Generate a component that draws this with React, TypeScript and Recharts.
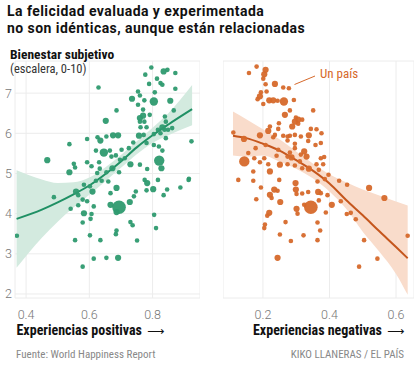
import { ComposedChart, Area, Line, Scatter, XAxis, YAxis, CartesianGrid } from "recharts"

// each point: [experiencias, escalera, tamaño de población (1-5)]
const positivePoints: [number, number, number][] = [
  [0.796, 7.64, 1], [0.777, 7.46, 1], [0.835, 7.54, 2], [0.847, 7.58, 1], [0.872, 7.5, 1],
  [0.814, 7.36, 1], [0.789, 7.23, 1], [0.825, 7.25, 1], [0.831, 7.21, 1], [0.629, 7.14, 1],
  [0.872, 7.11, 1], [0.754, 7.04, 1], [0.807, 7.02, 1], [0.735, 6.86, 2], [0.76, 6.94, 1],
  [0.774, 6.82, 1], [0.804, 6.79, 3], [0.856, 6.81, 2], [0.754, 6.71, 1], [0.686, 6.57, 1],
  [0.77, 6.59, 1], [0.791, 6.46, 1], [0.839, 6.42, 1], [0.867, 6.57, 1], [0.652, 6.31, 2],
  [0.76, 6.38, 2], [0.77, 6.44, 2], [0.774, 6.29, 1], [0.76, 6.29, 1], [0.842, 6.29, 1],
  [0.781, 6.15, 1], [0.762, 6.15, 1], [0.757, 5.94, 2], [0.772, 5.96, 1], [0.831, 6.15, 2],
  [0.838, 6.09, 1], [0.849, 6.09, 1], [0.817, 6.09, 1], [0.862, 6.13, 1], [0.825, 6.0, 1],
  [0.804, 5.98, 1], [0.842, 5.88, 1], [0.923, 5.8, 1], [0.537, 5.73, 1], [0.593, 5.86, 1],
  [0.626, 5.9, 1], [0.635, 5.82, 2], [0.654, 5.92, 1], [0.675, 5.95, 2], [0.691, 5.95, 2],
  [0.739, 5.77, 1], [0.781, 5.76, 1], [0.804, 5.71, 1], [0.82, 5.67, 1], [0.831, 5.57, 1],
  [0.725, 5.63, 1], [0.702, 5.59, 1], [0.621, 5.57, 1], [0.646, 5.52, 3], [0.67, 5.42, 1],
  [0.665, 5.57, 1], [0.684, 5.45, 1], [0.712, 5.38, 1], [0.697, 5.34, 1], [0.467, 5.33, 2],
  [0.551, 5.24, 1], [0.555, 5.15, 1], [0.537, 5.03, 2], [0.593, 5.28, 1], [0.607, 5.18, 1],
  [0.631, 5.28, 1], [0.633, 5.12, 1], [0.625, 5.01, 1], [0.654, 5.03, 1], [0.673, 5.13, 2],
  [0.694, 5.03, 1], [0.73, 5.23, 2], [0.76, 5.22, 1], [0.783, 5.11, 1], [0.821, 5.32, 4],
  [0.828, 5.13, 2], [0.915, 4.87, 1],
  [0.621, 4.82, 1], [0.639, 4.82, 1], [0.66, 4.8, 1], [0.583, 4.72, 1], [0.775, 4.84, 1],
  [0.783, 4.76, 2], [0.817, 4.84, 1], [0.914, 4.84, 1], [0.488, 4.41, 1], [0.558, 4.55, 2],
  [0.565, 4.46, 1], [0.61, 4.55, 2], [0.602, 4.68, 1], [0.667, 4.51, 1], [0.686, 4.64, 2],
  [0.747, 4.55, 1], [0.741, 4.43, 1], [0.728, 4.29, 2], [0.781, 4.58, 1], [0.802, 4.61, 2],
  [0.846, 4.6, 1], [0.835, 4.46, 1], [0.888, 4.65, 1], [0.541, 4.12, 1], [0.565, 4.21, 1],
  [0.579, 4.35, 1], [0.593, 4.31, 1], [0.614, 4.18, 1], [0.583, 4.01, 2], [0.607, 3.99, 1],
  [0.579, 3.78, 1], [0.604, 3.87, 1], [0.667, 4.22, 2], [0.694, 4.16, 5], [0.686, 4.04, 2],
  [0.805, 3.97, 1], [0.73, 3.79, 1], [0.737, 3.71, 1], [0.811, 3.64, 1], [0.371, 3.45, 1],
  [0.555, 3.34, 1], [0.602, 3.46, 1], [0.635, 3.34, 1], [0.686, 3.58, 1], [0.684, 3.49, 1],
  [0.751, 3.33, 1], [0.614, 2.88, 1], [0.654, 2.9, 1], [0.691, 2.9, 2], [0.579, 2.68, 1],
]

const negativePoints: [number, number, number][] = [
  [0.181, 7.66, 1], [0.158, 7.5, 1], [0.208, 7.58, 2], [0.204, 7.47, 2], [0.201, 7.36, 1],
  [0.208, 7.22, 1], [0.236, 7.23, 2], [0.261, 7.14, 1], [0.278, 7.12, 1], [0.194, 7.02, 1],
  [0.211, 7.04, 1], [0.191, 6.92, 2], [0.184, 6.85, 1], [0.219, 6.82, 2], [0.231, 6.82, 2],
  [0.244, 6.81, 1], [0.263, 6.79, 3], [0.293, 6.83, 1], [0.201, 6.73, 1], [0.281, 6.57, 1],
  [0.351, 6.57, 1], [0.266, 6.46, 2], [0.299, 6.39, 1], [0.306, 6.34, 2], [0.318, 6.34, 1],
  [0.296, 6.29, 2], [0.248, 6.25, 1], [0.288, 6.17, 2], [0.306, 6.24, 1], [0.221, 6.17, 1],
  [0.216, 6.06, 2], [0.111, 6.02, 1], [0.236, 5.96, 1], [0.246, 6.11, 1], [0.261, 5.94, 1],
  [0.274, 5.92, 1], [0.281, 5.94, 1], [0.296, 5.96, 1], [0.314, 5.92, 1], [0.338, 5.95, 2],
  [0.344, 6.11, 1], [0.361, 6.1, 1], [0.376, 6.0, 1], [0.191, 5.95, 2], [0.143, 5.86, 2],
  [0.274, 5.82, 1], [0.231, 5.9, 1], [0.336, 5.81, 1], [0.296, 5.74, 1], [0.296, 5.63, 1],
  [0.358, 5.71, 1], [0.374, 5.76, 1], [0.178, 5.63, 1], [0.208, 5.71, 1], [0.246, 5.59, 1],
  [0.324, 5.55, 2], [0.331, 5.42, 2], [0.281, 5.52, 1], [0.314, 5.47, 1], [0.156, 5.51, 1],
  [0.241, 5.44, 1], [0.286, 5.4, 2], [0.274, 5.42, 1], [0.144, 5.3, 4], [0.174, 5.38, 1],
  [0.204, 5.38, 1], [0.191, 5.28, 1], [0.216, 5.23, 1], [0.251, 5.22, 2], [0.274, 5.23, 1],
  [0.296, 5.2, 1], [0.311, 5.3, 1], [0.318, 5.13, 1], [0.338, 5.12, 2], [0.361, 5.23, 1],
  [0.374, 5.38, 1], [0.384, 5.41, 1], [0.381, 5.23, 1], [0.368, 5.09, 1], [0.171, 5.05, 1],
  [0.221, 5.05, 2], [0.397, 4.97, 1],
  [0.126, 4.84, 1], [0.171, 4.82, 1], [0.249, 4.84, 1], [0.298, 4.76, 2], [0.364, 4.8, 1],
  [0.386, 4.86, 1], [0.429, 4.82, 1], [0.453, 4.72, 1], [0.194, 4.65, 1], [0.234, 4.6, 2],
  [0.244, 4.57, 1], [0.221, 4.47, 2], [0.226, 4.39, 1], [0.299, 4.6, 2], [0.301, 4.49, 1],
  [0.318, 4.5, 1], [0.336, 4.54, 1], [0.366, 4.54, 2], [0.374, 4.51, 1], [0.394, 4.46, 1],
  [0.18, 4.36, 1], [0.252, 4.29, 2], [0.368, 4.33, 1], [0.344, 4.16, 5], [0.324, 4.22, 1],
  [0.407, 4.22, 2], [0.434, 4.31, 1], [0.519, 4.64, 2], [0.565, 4.39, 2], [0.301, 4.12, 2],
  [0.304, 4.0, 1], [0.219, 4.02, 2], [0.213, 3.95, 1], [0.389, 4.03, 1], [0.452, 3.99, 1],
  [0.464, 4.02, 1], [0.479, 3.86, 1], [0.268, 3.79, 1], [0.206, 3.73, 1], [0.204, 3.64, 1],
  [0.364, 3.78, 1], [0.372, 3.58, 1], [0.251, 3.48, 1], [0.322, 3.46, 1], [0.284, 3.32, 1],
  [0.364, 3.34, 1], [0.504, 3.34, 1], [0.635, 3.45, 1], [0.244, 2.9, 2], [0.544, 2.88, 1],
  [0.489, 2.68, 1],
]

// curva de ajuste y su intervalo
const positiveFitX = [0.37, 0.45, 0.5, 0.55, 0.6, 0.65, 0.7, 0.75, 0.8, 0.85, 0.925]
const positiveFit = [3.87, 4.1, 4.28, 4.48, 4.7, 4.98, 5.3, 5.65, 5.95, 6.22, 6.6]
const positiveLow = [2.65, 3.4, 3.8, 4.15, 4.47, 4.8, 5.14, 5.48, 5.76, 5.95, 6.2]
const positiveHigh = [5.08, 4.85, 4.76, 4.78, 4.9, 5.15, 5.46, 5.8, 6.14, 6.5, 7.2]

const negativeFitX = [0.11, 0.15, 0.2, 0.25, 0.3, 0.35, 0.4, 0.45, 0.5, 0.55, 0.6, 0.635]
const negativeFit = [5.94, 5.88, 5.74, 5.57, 5.33, 5.07, 4.75, 4.34, 3.96, 3.56, 3.17, 2.89]
const negativeLow = [5.45, 5.42, 5.45, 5.3, 5.12, 4.88, 4.55, 4.12, 3.55, 3.05, 2.5, 1.98]
const negativeHigh = [6.54, 6.35, 6.1, 5.85, 5.55, 5.25, 4.98, 4.78, 4.6, 4.45, 4.3, 4.2]

const yTicks = [2, 3, 4, 5, 6, 7]
const positiveTicks = [0.4, 0.6, 0.8]
const negativeTicks = [0.2, 0.4, 0.6]

const GREEN = "#2e9a6f"
const ORANGE = "#d6692b"
const radius = [0, 2.3, 3.1, 4.2, 5.2, 6.8]
const FONT = "'Liberation Sans Narrow', 'Roboto Condensed', Roboto, sans-serif"
const tickStyle = { fill: "#777", fontSize: 12.5, fontFamily: "Roboto", fontWeight: 300 }

const toPoints = (pts: [number, number, number][]) => pts.map(([x, y, p]) => ({ x, y, p }))
const toFit = (xs: number[], fit: number[], lo: number[], hi: number[]) =>
  xs.map((x, i) => ({ x, fit: fit[i], band: [lo[i], hi[i]] }))

function Panel({ left, width, points, fit, ticks, domain, color, band, line, showY }: any) {
  return (
    <div style={{ position: "absolute", left, top: 0 }}>
      <ComposedChart
        width={width}
        height={328}
        data={fit}
        margin={{ top: 61, right: 0, bottom: 0, left: 0 }}
      >
        <CartesianGrid stroke="#ececec" strokeWidth={1} />
        <XAxis
          type="number"
          dataKey="x"
          domain={domain}
          ticks={ticks}
          allowDataOverflow
          axisLine={false}
          tickLine={false}
          tickSize={0}
          tickMargin={12}
          height={30}
          tick={tickStyle}
          tickFormatter={(v: number) => v.toFixed(1)}
        />
        <YAxis
          type="number"
          domain={[1.9, 7.8]}
          ticks={yTicks}
          allowDataOverflow
          axisLine={false}
          tickLine={false}
          tickSize={0}
          tickMargin={3}
          width={showY ? 15 : 0}
          tick={showY ? tickStyle : false}
        />
        <Area
          type="monotone"
          dataKey="band"
          stroke="none"
          fill={band}
          fillOpacity={1}
          isAnimationActive={false}
        />
        <Scatter
          data={points}
          dataKey="y"
          isAnimationActive={false}
          shape={(s: any) => (
            <circle cx={s.cx} cy={s.cy} r={radius[s.payload.p]} fill={color} fillOpacity={0.95} />
          )}
        />
        <Line
          type="monotone"
          dataKey="fit"
          stroke={line}
          strokeWidth={2}
          dot={false}
          isAnimationActive={false}
        />
      </ComposedChart>
    </div>
  )
}

export default function App() {
  return (
    <div
      style={{
        position: "absolute",
        left: 0,
        top: 0,
        width: 414,
        height: 365,
        background: "#fff",
        overflow: "hidden",
        fontFamily: FONT,
      }}
    >
      <Panel
        left={0}
        width={200}
        points={toPoints(positivePoints)}
        fit={toFit(positiveFitX, positiveFit, positiveLow, positiveHigh)}
        ticks={positiveTicks}
        domain={[0.365, 0.95]}
        color={GREEN}
        band="#d3eadf"
        line="#1f9064"
        showY
      />
      <Panel
        left={223}
        width={191}
        points={toPoints(negativePoints)}
        fit={toFit(negativeFitX, negativeFit, negativeLow, negativeHigh)}
        ticks={negativeTicks}
        domain={[0.08, 0.654]}
        color={ORANGE}
        band="#f9dccb"
        line="#c5561d"
      />
      <svg
        width={414}
        height={365}
        style={{ position: "absolute", left: 0, top: 0, pointerEvents: "none" }}
      >
        <text x={7} y={16.2} fontFamily="Roboto" fontWeight={700} fontSize={14} letterSpacing={0.45} fill="#111">
          La felicidad evaluada y experimentada
        </text>
        <text x={7} y={32.8} fontFamily="Roboto" fontWeight={700} fontSize={14} letterSpacing={0.45} fill="#111">
          no son idénticas, aunque están relacionadas
        </text>
        <text x={10} y={58.5} fontWeight={700} fontSize={13.5} fill="#111">
          Bienestar subjetivo
        </text>
        <text x={10} y={73} fontSize={12.5} fill="#333">
          (escalera, 0-10)
        </text>
        <line x1={294.5} y1={84.5} x2={315} y2={76} stroke={ORANGE} strokeWidth={1} />
        <text x={320} y={78} fontSize={13} fill={ORANGE}>
          Un país
        </text>
        <text x={16.5} y={335} fontWeight={700} fontSize={14} fill="#111">
          Experiencias positivas
          <tspan dx={5} fontFamily="'DejaVu Sans'" fontWeight={400} fontSize={12}>⟶</tspan>
        </text>
        <text x={253} y={335} fontWeight={700} fontSize={14} fill="#111">
          Experiencias negativas
          <tspan dx={5} fontFamily="'DejaVu Sans'" fontWeight={400} fontSize={12}>⟶</tspan>
        </text>
        <text x={16} y={358} fontSize={11} fill="#888">
          Fuente: World Happiness Report
        </text>
        <text x={404} y={358} fontSize={11} fill="#888" textAnchor="end">
          KIKO LLANERAS / EL PAÍS
        </text>
      </svg>
    </div>
  )
}
